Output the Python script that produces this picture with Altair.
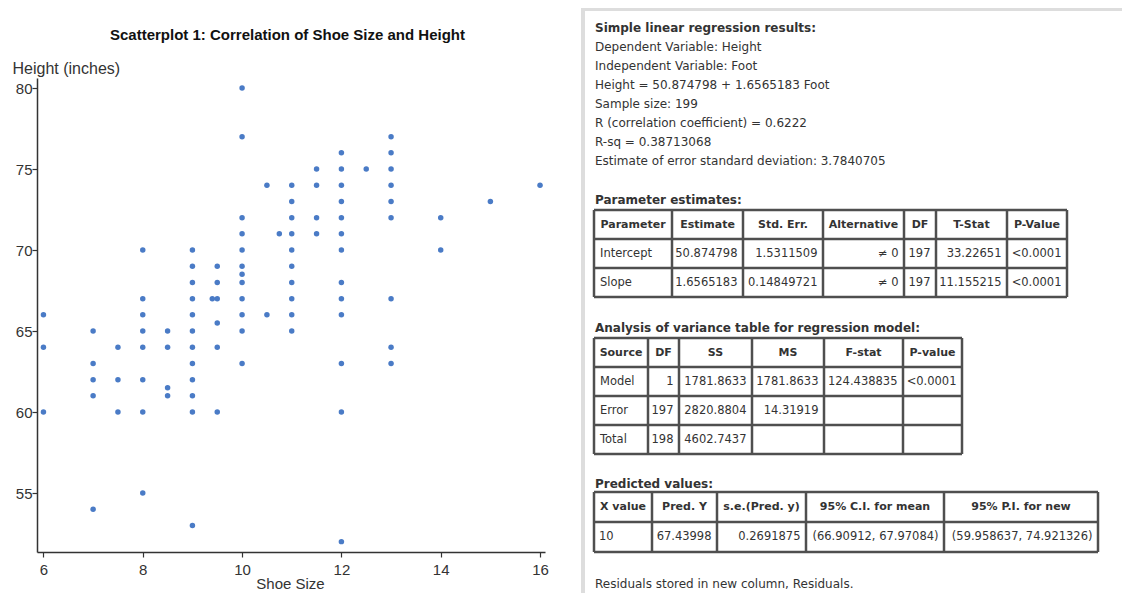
import altair as alt
import pandas as pd

# ---------------- scatter data ----------------
shoe = (
    [6] * 3 + [7] * 5 + [7.5] * 3 + [8] * 8 + [8.5] * 4 + [9] * 12 + [9.4] + [9.5] * 6
    + [10] * 12 + [10.5] * 2 + [10.75] + [11] * 10 + [11.5] * 4 + [12] * 13 + [12.5]
    + [13] * 9 + [14] * 2 + [15] + [16]
)
height = (
    [66, 64, 60]
    + [65, 63, 62, 61, 54]
    + [64, 62, 60]
    + [70, 67, 66, 65, 64, 62, 60, 55]
    + [65, 64, 61.5, 61]
    + [70, 69, 68, 67, 66, 65, 64, 63, 62, 61, 60, 53]
    + [67]
    + [69, 68, 67, 65.5, 64, 60]
    + [80, 77, 72, 71, 70, 69, 68.5, 68, 67, 66, 65, 63]
    + [74, 66]
    + [71]
    + [74, 73, 72, 71, 70, 69, 68, 67, 66, 65]
    + [75, 74, 72, 71]
    + [76, 75, 74, 73, 72, 71, 70, 68, 67, 66, 63, 60, 52]
    + [75]
    + [77, 76, 75, 74, 73, 72, 67, 64, 63]
    + [72, 70]
    + [73]
    + [74]
)
x_ticks = [6, 8, 10, 12, 14, 16]
y_ticks = [55, 60, 65, 70, 75, 80]
chart_title = "Scatterplot 1: Correlation of Shoe Size and Height"

# ---------------- regression output text ----------------
heading_1 = "Simple linear regression results:"
summary_lines = [
    "Dependent Variable: Height",
    "Independent Variable: Foot",
    "Height = 50.874798 + 1.6565183 Foot",
    "Sample size: 199",
    "R (correlation coefficient) = 0.6222",
    "R-sq = 0.38713068",
    "Estimate of error standard deviation: 3.7840705",
]
heading_2 = "Parameter estimates:"
param_header = ["Parameter", "Estimate", "Std. Err.", "Alternative", "DF", "T-Stat", "P-Value"]
param_rows = [
    ["Intercept", "50.874798", "1.5311509", "≠ 0", "197", "33.22651", "<0.0001"],
    ["Slope", "1.6565183", "0.14849721", "≠ 0", "197", "11.155215", "<0.0001"],
]
heading_3 = "Analysis of variance table for regression model:"
anova_header = ["Source", "DF", "SS", "MS", "F-stat", "P-value"]
anova_rows = [
    ["Model", "1", "1781.8633", "1781.8633", "124.438835", "<0.0001"],
    ["Error", "197", "2820.8804", "14.31919", "", ""],
    ["Total", "198", "4602.7437", "", "", ""],
]
heading_4 = "Predicted values:"
pred_header = ["X value", "Pred. Y", "s.e.(Pred. y)", "95% C.I. for mean", "95% P.I. for new"]
pred_rows = [["10", "67.43998", "0.2691875", "(66.90912, 67.97084)", "(59.958637, 74.921326)"]]
footer = "Residuals stored in new column, Residuals."

# ---------------- layout of the text panel (page pixels) ----------------
TITLE_X, TITLE_Y = 287.5, 35
TEXT_X = 595
LINE_Y0, LINE_DY = 28, 19
HEAD_Y = [28, 200, 327.5, 484]
FOOT_Y = 584
T1_X = [594, 672, 743, 823, 904, 936, 1007, 1067]
T1_Y = [210, 239, 268, 297]
T2_X = [594, 648, 679, 752, 824, 903, 962]
T2_Y = [338, 367, 396, 425, 454]
T3_X = [594, 652, 717, 806, 944, 1098]
T3_Y = [492, 522, 552]

texts = []  # x, y, text, kind
rules = []  # x, x2, y, y2

for hy, ht in zip(HEAD_Y, [heading_1, heading_2, heading_3, heading_4]):
    texts.append((TEXT_X, hy, ht, "lb"))
for i, line in enumerate(summary_lines):
    texts.append((TEXT_X, LINE_Y0 + LINE_DY * (i + 1), line, "l"))
texts.append((TEXT_X, FOOT_Y, footer, "l"))
texts.append((TITLE_X, TITLE_Y, chart_title, "title"))


def add_table(xe, ye, header, rows, lpad):
    for i, h in enumerate(header):
        texts.append(((xe[i] + xe[i + 1]) / 2, (ye[0] + ye[1]) / 2, h, "cb"))
    for r, row in enumerate(rows):
        yc = (ye[r + 1] + ye[r + 2]) / 2
        for c, val in enumerate(row):
            if not val:
                continue
            if c == 0:
                texts.append((xe[0] + lpad, yc, val, "cl"))
            else:
                texts.append((xe[c + 1] - 5.5, yc, val, "cr"))
    for y in ye:
        rules.append((xe[0], xe[-1], y, y))
    for x in xe:
        rules.append((x, x, ye[0], ye[-1]))


add_table(T1_X, T1_Y, param_header, param_rows, 6)
add_table(T2_X, T2_Y, anova_header, anova_rows, 6)
add_table(T3_X, T3_Y, pred_header, pred_rows, 5)

text_df = pd.DataFrame(texts, columns=["px", "py", "txt", "kind"])
rule_df = pd.DataFrame(rules, columns=["px", "px2", "py", "py2"])
frame_df = pd.DataFrame(
    [(581, 1130, 9, 9), (583, 583, 8, 601)], columns=["px", "px2", "py", "py2"]
)

# ---------------- charts ----------------
W, H = 508, 474
LEFT, TOP = 37, 78
SVG_W, SVG_H = 1114, 585  # page is 1130x601 with an 8px margin

scatter = (
    alt.Chart(pd.DataFrame({"Shoe Size": shoe, "Height": height}))
    .mark_circle(size=30, color="#4a7bc6", opacity=1)
    .encode(
        x=alt.X(
            "Shoe Size:Q",
            scale=alt.Scale(domain=[5.87, 16.1], nice=False, zero=False),
            axis=alt.Axis(
                values=x_ticks,
                title="Shoe Size",
                titleX=253,
                titleY=36,
                titleAlign="center",
                titleBaseline="alphabetic",
                titleFontSize=15,
                tickSize=5,
                labelPadding=5,
            ),
        ),
        y=alt.Y(
            "Height:Q",
            scale=alt.Scale(domain=[51.36, 80.62], nice=False, zero=False),
            axis=alt.Axis(
                values=y_ticks,
                title="Height (inches)",
                titleAngle=0,
                titleX=-25,
                titleY=-5,
                titleAlign="left",
                titleBaseline="alphabetic",
                tickSize=5,
                labelPadding=0,
            ),
        ),
    )
)

px_scale = alt.Scale(domain=[LEFT, LEFT + W], nice=False, zero=False)
py_scale = alt.Scale(domain=[TOP, TOP + H], nice=False, zero=False, reverse=True)

frame = (
    alt.Chart(frame_df)
    .mark_rule(color="#dddddd", strokeWidth=4)
    .encode(
        x=alt.X("px:Q", scale=px_scale, axis=None),
        x2="px2:Q",
        y=alt.Y("py:Q", scale=py_scale, axis=None),
        y2="py2:Q",
    )
)
table_lines = (
    alt.Chart(rule_df)
    .mark_rule(color="#4f4f4f", strokeWidth=2.5)
    .encode(
        x=alt.X("px:Q", scale=px_scale, axis=None),
        x2="px2:Q",
        y=alt.Y("py:Q", scale=py_scale, axis=None),
        y2="py2:Q",
    )
)


def text_layer(kind, align, weight, size=12, font="DejaVu Sans", color="#333333"):
    return (
        alt.Chart(text_df)
        .transform_filter(alt.datum.kind == kind)
        .mark_text(
            align=align,
            baseline="middle",
            font=font,
            fontSize=size,
            fontWeight=weight,
            color=color,
        )
        .encode(
            x=alt.X("px:Q", scale=px_scale, axis=None),
            y=alt.Y("py:Q", scale=py_scale, axis=None),
            text="txt:N",
        )
    )


panel = alt.layer(
    frame,
    table_lines,
    text_layer("l", "left", "normal"),
    text_layer("cl", "left", "normal", size=11.5),
    text_layer("cr", "right", "normal", size=11.5),
    text_layer("cb", "center", "bold", size=11),
    text_layer("lb", "left", "bold"),
    text_layer("title", "center", "bold", size=15, font="Liberation Sans", color="#111111"),
)

chart = (
    alt.layer(scatter, panel)
    .resolve_scale(x="independent", y="independent")
    .properties(
        width=W,
        height=H,
        autosize=alt.AutoSizeParams(type="none"),
        padding={
            "left": LEFT - 8,
            "top": TOP - 8,
            "right": SVG_W - (LEFT - 8) - W,
            "bottom": SVG_H - (TOP - 8) - H,
        },
    )
    .configure_view(stroke=None)
    .configure_axis(
        grid=False,
        domainColor="#333333",
        domainWidth=1.5,
        tickColor="#333333",
        tickWidth=1.2,
        labelFont="Liberation Sans",
        labelFontSize=15,
        labelColor="#333333",
        titleFont="Liberation Sans",
        titleFontSize=16,
        titleFontWeight="normal",
        titleColor="#333333",
    )
)

chart.save("out.html", embed_options={"renderer": "svg", "actions": False})
